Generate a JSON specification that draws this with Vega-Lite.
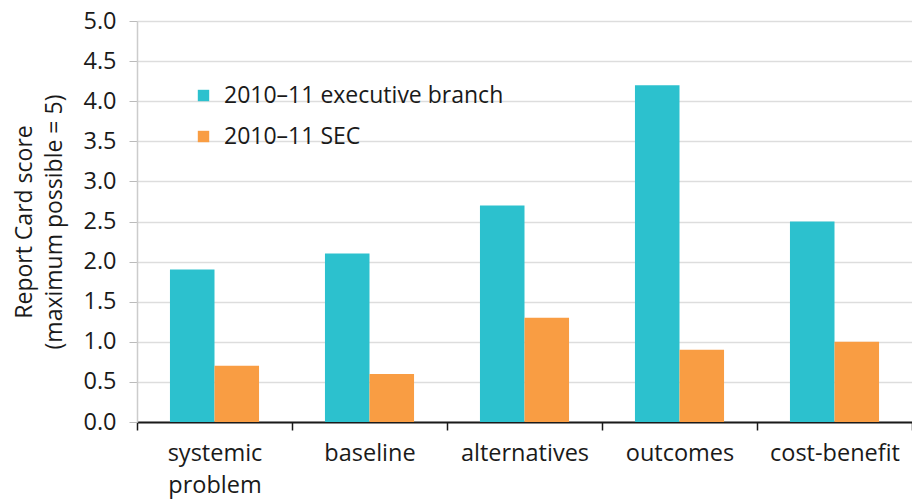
{
  "$schema": "https://vega.github.io/schema/vega-lite/v6.json",
  "width": 775,
  "height": 401,
  "autosize": "none",
  "padding": {"left": 137, "top": 21, "right": 0, "bottom": 77},
  "background": "white",
  "config": {
    "font": "Open Sans",
    "view": {"stroke": null}
  },
  "data": {
    "values": [
      {"area": "systemic problem", "series": "2010–11 executive branch", "score": 1.9},
      {"area": "systemic problem", "series": "2010–11 SEC", "score": 0.7},
      {"area": "baseline", "series": "2010–11 executive branch", "score": 2.1},
      {"area": "baseline", "series": "2010–11 SEC", "score": 0.6},
      {"area": "alternatives", "series": "2010–11 executive branch", "score": 2.7},
      {"area": "alternatives", "series": "2010–11 SEC", "score": 1.3},
      {"area": "outcomes", "series": "2010–11 executive branch", "score": 4.2},
      {"area": "outcomes", "series": "2010–11 SEC", "score": 0.9},
      {"area": "cost-benefit", "series": "2010–11 executive branch", "score": 2.5},
      {"area": "cost-benefit", "series": "2010–11 SEC", "score": 1.0}
    ]
  },
  "mark": {"type": "bar"},
  "encoding": {
    "x": {
      "field": "area",
      "type": "nominal",
      "sort": null,
      "scale": {"paddingInner": 0, "paddingOuter": 0},
      "axis": {
        "title": null,
        "labelAngle": 0,
        "labelFontSize": 23.5,
        "labelColor": "#1a1a1a",
        "labelPadding": 11,
        "labelLineHeight": 32,
        "labelBaseline": "top",
        "labelLimit": 300,
        "labelExpr": "datum.label == 'systemic problem' ? ['systemic', 'problem'] : datum.label",
        "domainColor": "#1a1a1a",
        "domainWidth": 2,
        "tickColor": "#1a1a1a",
        "tickWidth": 1.5,
        "tickSize": 8,
        "tickBand": "extent",
        "grid": false
      }
    },
    "xOffset": {
      "field": "series",
      "type": "nominal",
      "sort": null,
      "scale": {"paddingInner": 0, "paddingOuter": 0.74}
    },
    "y": {
      "field": "score",
      "type": "quantitative",
      "scale": {"domain": [0, 5], "nice": false},
      "axis": {
        "values": [0, 0.5, 1, 1.5, 2, 2.5, 3, 3.5, 4, 4.5, 5],
        "format": ".1f",
        "title": ["Report Card score", "(maximum possible = 5)"],
        "titleFontSize": 23,
        "titleFontWeight": "normal",
        "titleColor": "#1a1a1a",
        "titlePadding": 16,
        "titleLineHeight": 30,
        "labelFontSize": 23.5,
        "labelColor": "#1a1a1a",
        "labelPadding": 13,
        "domainColor": "#cccccc",
        "domainWidth": 1.5,
        "tickColor": "#bbbbbb",
        "tickSize": 8,
        "gridColor": "#dddddd",
        "gridWidth": 1.5
      }
    },
    "color": {
      "field": "series",
      "type": "nominal",
      "sort": null,
      "scale": {"range": ["#2cc1ce", "#f99d43"]},
      "legend": {
        "title": null,
        "orient": "none",
        "legendX": 55,
        "legendY": 63,
        "symbolType": "square",
        "symbolSize": 130,
        "symbolStrokeWidth": 0,
        "labelFontSize": 23,
        "labelLimit": 400,
        "labelColor": "#1a1a1a",
        "labelOffset": 9,
        "rowPadding": 17
      }
    }
  }
}
